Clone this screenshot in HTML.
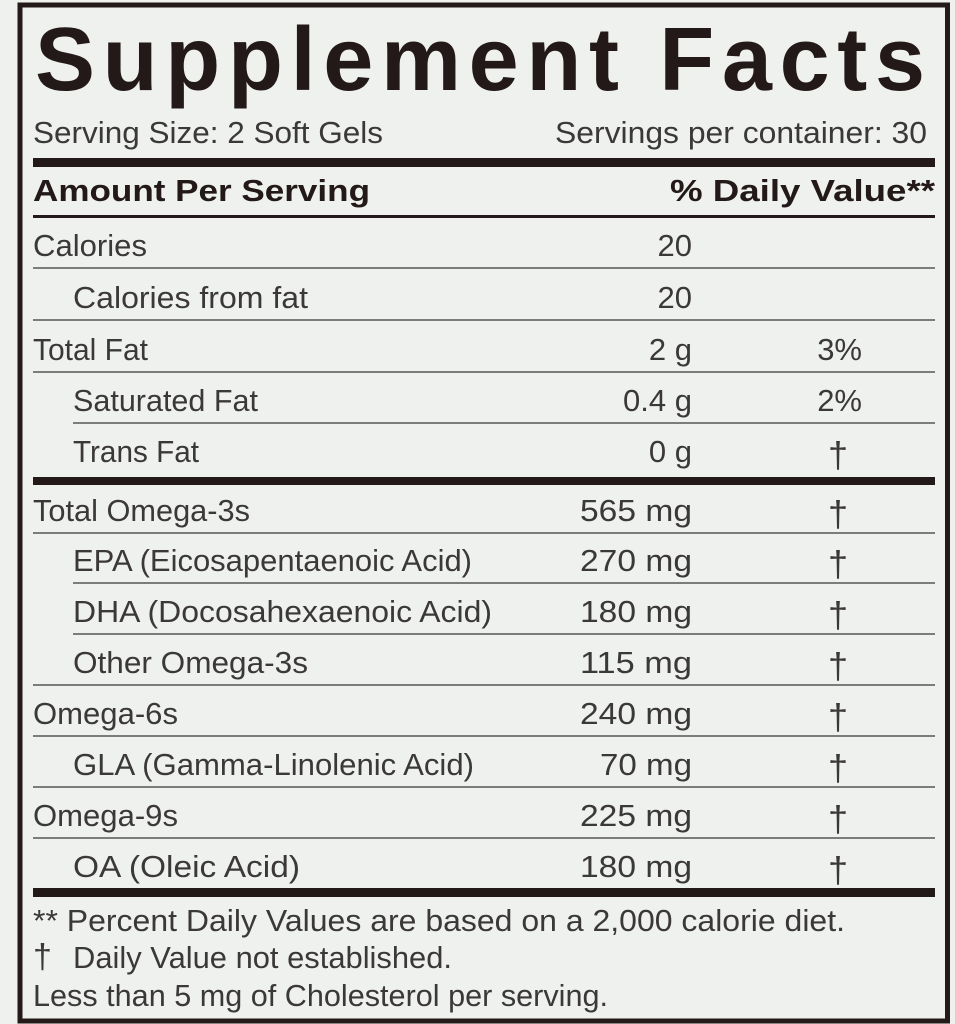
<!DOCTYPE html>
<html><head><meta charset="utf-8"><style>
html,body{margin:0;padding:0;background:#eff1ef;}
svg{display:block;}
text{font-family:"Liberation Sans",sans-serif;fill:#3b3938;}
.b{font-weight:bold;fill:#221918;}
</style></head><body>
<svg width="955" height="1024" viewBox="0 0 955 1024" xmlns="http://www.w3.org/2000/svg">
<rect x="0" y="0" width="955" height="1024" fill="#eff1ef"/>
<rect x="20" y="5" width="927.5" height="1016" fill="none" stroke="#221918" stroke-width="5"/>
<text class="b" x="35" y="90" font-size="90" textLength="890" lengthAdjust="spacing">Supplement Facts</text>
<g font-size="31">
<text x="33" y="143" textLength="350" lengthAdjust="spacingAndGlyphs">Serving Size: 2 Soft Gels</text>
<text x="927" y="143" text-anchor="end" textLength="372" lengthAdjust="spacingAndGlyphs">Servings per container: 30</text>
</g>
<rect x="33" y="158" width="902" height="9" fill="#221918"/>
<g font-size="31">
<text class="b" x="33" y="201" textLength="337" lengthAdjust="spacingAndGlyphs">Amount Per Serving</text>
<text class="b" x="935" y="201" text-anchor="end" textLength="265" lengthAdjust="spacingAndGlyphs">% Daily Value**</text>
</g>
<rect x="33" y="215" width="902" height="3" fill="#221918"/>
<g stroke="#555" stroke-width="1.6">
<line x1="33" y1="268" x2="935" y2="268"/>
<line x1="33" y1="320" x2="935" y2="320"/>
<line x1="33" y1="372" x2="935" y2="372"/>
<line x1="73" y1="423" x2="935" y2="423"/>
<line x1="33" y1="533" x2="935" y2="533"/>
<line x1="73" y1="583" x2="935" y2="583"/>
<line x1="73" y1="634" x2="935" y2="634"/>
<line x1="33" y1="685" x2="935" y2="685"/>
<line x1="33" y1="736" x2="935" y2="736"/>
<line x1="33" y1="787" x2="935" y2="787"/>
<line x1="33" y1="838" x2="935" y2="838"/>
</g>
<rect x="33" y="477" width="902" height="8" fill="#221918"/>
<rect x="33" y="888" width="902" height="9" fill="#221918"/>
<g font-size="31">
<text x="33" y="256" textLength="114" lengthAdjust="spacingAndGlyphs">Calories</text>
<text x="73" y="308" textLength="235" lengthAdjust="spacingAndGlyphs">Calories from fat</text>
<text x="33" y="360" textLength="115" lengthAdjust="spacingAndGlyphs">Total Fat</text>
<text x="73" y="411" textLength="185" lengthAdjust="spacingAndGlyphs">Saturated Fat</text>
<text x="73" y="462" textLength="126" lengthAdjust="spacingAndGlyphs">Trans Fat</text>
<text x="33" y="521" textLength="217" lengthAdjust="spacingAndGlyphs">Total Omega-3s</text>
<text x="73" y="571" textLength="399" lengthAdjust="spacingAndGlyphs">EPA (Eicosapentaenoic Acid)</text>
<text x="73" y="622" textLength="419" lengthAdjust="spacingAndGlyphs">DHA (Docosahexaenoic Acid)</text>
<text x="73" y="673" textLength="235" lengthAdjust="spacingAndGlyphs">Other Omega-3s</text>
<text x="33" y="724" textLength="145" lengthAdjust="spacingAndGlyphs">Omega-6s</text>
<text x="73" y="775" textLength="401" lengthAdjust="spacingAndGlyphs">GLA (Gamma-Linolenic Acid)</text>
<text x="33" y="826" textLength="145" lengthAdjust="spacingAndGlyphs">Omega-9s</text>
<text x="73" y="877" textLength="227" lengthAdjust="spacingAndGlyphs">OA (Oleic Acid)</text>
</g>
<g font-size="31" text-anchor="end">
<text x="692" y="256">20</text>
<text x="692" y="308">20</text>
<text x="692" y="360">2 g</text>
<text x="692" y="411">0.4 g</text>
<text x="692" y="462">0 g</text>
<text x="692" y="521" textLength="112" lengthAdjust="spacingAndGlyphs">565 mg</text>
<text x="692" y="571" textLength="112" lengthAdjust="spacingAndGlyphs">270 mg</text>
<text x="692" y="622" textLength="112" lengthAdjust="spacingAndGlyphs">180 mg</text>
<text x="692" y="673" textLength="112" lengthAdjust="spacingAndGlyphs">115 mg</text>
<text x="692" y="724" textLength="112" lengthAdjust="spacingAndGlyphs">240 mg</text>
<text x="692" y="775" textLength="92" lengthAdjust="spacingAndGlyphs">70 mg</text>
<text x="692" y="826" textLength="112" lengthAdjust="spacingAndGlyphs">225 mg</text>
<text x="692" y="877" textLength="112" lengthAdjust="spacingAndGlyphs">180 mg</text>
</g>
<g font-size="31" text-anchor="end">
<text x="862" y="360">3%</text>
<text x="862" y="411">2%</text>
</g>
<g font-size="36" text-anchor="middle">
<text x="838" y="467">†</text>
<text x="838" y="526">†</text>
<text x="838" y="576">†</text>
<text x="838" y="627">†</text>
<text x="838" y="678">†</text>
<text x="838" y="729">†</text>
<text x="838" y="780">†</text>
<text x="838" y="831">†</text>
<text x="838" y="882">†</text>
</g>
<g font-size="31">
<text x="33" y="931" textLength="812" lengthAdjust="spacingAndGlyphs">** Percent Daily Values are based on a 2,000 calorie diet.</text>
<text x="33" y="968" font-size="34">†</text>
<text x="73" y="968" textLength="379" lengthAdjust="spacingAndGlyphs">Daily Value not established.</text>
<text x="33" y="1006" textLength="575" lengthAdjust="spacingAndGlyphs">Less than 5 mg of Cholesterol per serving.</text>
</g>
</svg>
</body></html>
